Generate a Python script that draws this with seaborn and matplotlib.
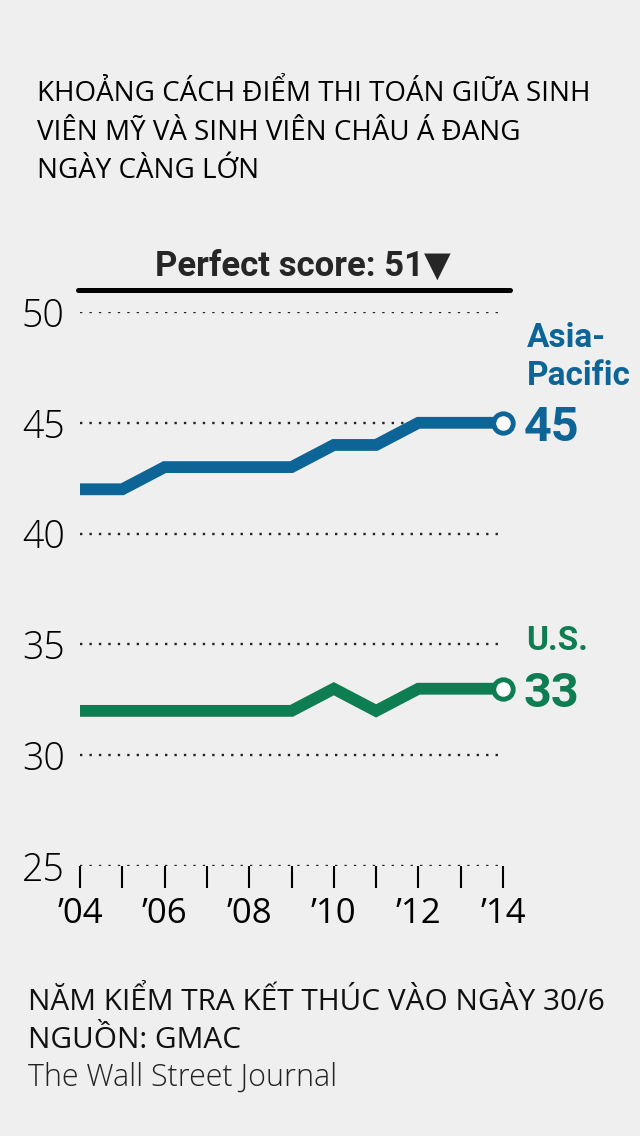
# =============================================================================
# SETUP
# =============================================================================
import pandas as pd
import seaborn as sns
import matplotlib.pyplot as plt

sns.set_theme(style="white")
# set after the theme, otherwise seaborn resets it
plt.rcParams["font.family"] = ["Open Sans", "DejaVu Sans"]

# =============================================================================
# DATA
# =============================================================================
years = list(range(2004, 2015))
asia_pacific = [42, 42, 43, 43, 43, 43, 44, 44, 45, 45, 45]
us_scores = [32, 32, 32, 32, 32, 32, 33, 32, 33, 33, 33]
perfect_score = 51

y_ticks = [25, 30, 35, 40, 45, 50]
x_tick_labels = ["’04", "", "’06", "", "’08", "", "’10", "", "’12", "", "’14"]

title_lines = [
    "KHOẢNG CÁCH ĐIỂM THI TOÁN GIỮA SINH",
    "VIÊN MỸ VÀ SINH VIÊN CHÂU Á ĐANG",
    "NGÀY CÀNG LỚN",
]
footer_lines = [
    "NĂM KIỂM TRA KẾT THÚC VÀO NGÀY 30/6",
    "NGUỒN: GMAC",
    "The Wall Street Journal",
]

# --- colours ---
BG = "#efefef"
BLUE = "#0d6496"
GREEN = "#0e7d52"
palette = {"Asia-Pacific": BLUE, "U.S.": GREEN}

# long format table for seaborn
df = pd.DataFrame({
    "year": years * 2,
    "score": asia_pacific + us_scores,
    "region": ["Asia-Pacific"] * len(years) + ["U.S."] * len(years),
})

# =============================================================================
# FIGURE
# =============================================================================
W, H = 640, 1136
fig = plt.figure(figsize=(W / 100, H / 100), dpi=100, facecolor=BG)
ax = fig.add_axes([80 / W, 270 / H, 423 / W, 554 / H])
ax.set_facecolor(BG)

# main lines
sns.lineplot(data=df, x="year", y="score", hue="region", palette=palette,
             lw=8.5, legend=False, ax=ax, clip_on=False,
             solid_joinstyle="miter", solid_capstyle="butt")

# open circle at the last year + end labels
bold = ["Roboto", "DejaVu Sans"]
for region, color in palette.items():
    sub = df[df.region == region]
    last = sub[sub.year == years[-1]]
    ax.plot(last.year, last.score, marker="o", ms=14, mfc="white", mec=color,
            mew=3.5, clip_on=False, zorder=5)
    val = int(last.score.iloc[0])
    ax.annotate(str(val), xy=(years[-1], val), xytext=(15, 0),
                textcoords="offset points", ha="left", va="center_baseline",
                fontsize=35, fontweight="bold", color=color, family=bold)
    name = "Asia-\nPacific" if region == "Asia-Pacific" else region
    # va="baseline" anchors the last line of the label
    up = 27 if region == "Asia-Pacific" else 28
    ax.annotate(name, xy=(years[-1], val), xytext=(17, up),
                textcoords="offset points", ha="left", va="baseline",
                fontsize=24, fontweight="bold", color=color, family=bold,
                linespacing=1.24)

# perfect score bar
ax.axhline(perfect_score, xmin=-0.005, xmax=1.017, color="black", lw=3.6,
           clip_on=False, solid_capstyle="round")
ax.annotate(f"Perfect score: {perfect_score}▼", xy=(0.527, perfect_score),
            xycoords=("axes fraction", "data"), xytext=(0, 10),
            textcoords="offset points", ha="center", va="baseline",
            fontsize=25, fontweight="bold", family=bold)

# axes styling
ax.set_xlim(years[0], years[-1])
ax.set_ylim(y_ticks[0], y_ticks[-1])
ax.set_yticks(y_ticks)
ax.set_xticks(years)
ax.set_xticklabels(x_tick_labels)
ax.set_xlabel("")
ax.set_ylabel("")
ax.yaxis.grid(True, linestyle=(0, (1, 3)), lw=1.7, color="#222222")
ax.tick_params(axis="y", length=0, pad=11, labelsize=27, labelcolor="black")
ax.tick_params(axis="x", bottom=True, length=16, width=1.5, color="black",
               direction="out", pad=6, labelsize=25, labelcolor="black")
for lab in ax.get_yticklabels():
    lab.set_fontweight("light")
sns.despine(ax=ax, left=True, bottom=True)

# title and footer
for i, line in enumerate(title_lines):
    fig.text(37 / W, 1 - (101 + 38.5 * i) / H, line, ha="left", va="baseline",
             fontsize=20, color="black")
for i, line in enumerate(footer_lines):
    fig.text(28 / W, 1 - (1010 + 38 * i) / H, line, ha="left", va="baseline",
             fontsize=21.4 if i < 2 else 22, color="#111111" if i < 2 else "#222222",
             fontweight="normal" if i < 2 else "light")

fig.savefig("out.png", dpi=100, facecolor=BG)
